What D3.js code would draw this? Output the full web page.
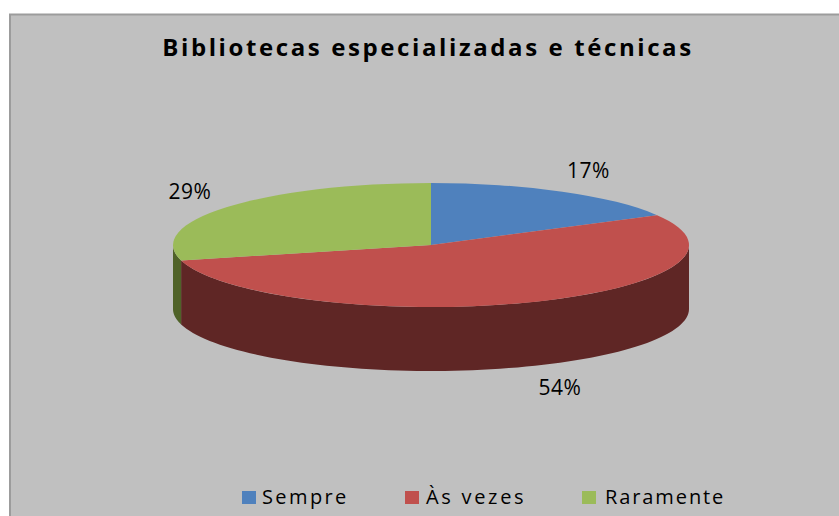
<!DOCTYPE html>
<html><head><meta charset="utf-8">
<script src="https://cdn.jsdelivr.net/npm/d3@7"></script>
<style>html,body{margin:0;padding:0;background:#fff}svg{display:block}text{font-family:"Open Sans",sans-serif;fill:#000}</style>
</head><body><svg id="c" width="839" height="516"></svg>
<script>
const categories = ["Sempre", "Às vezes", "Raramente"];
const values = [17, 54, 29];
const labels = ["17%", "54%", "29%"];
const titleText = "Bibliotecas especializadas e técnicas";
const topColors = ["#4f81bd", "#c0504d", "#9bbb59"];
const sideColors = ["#2f4d71", "#5f2625", "#4f6228"];

const svg = d3.select("#c");
svg.append("rect").attr("x",10).attr("y",14.5).attr("width",840).attr("height",520)
  .attr("fill","#c0c0c0").attr("stroke","#9c9c9c").attr("stroke-width",2);

const cx=431, cy=245, rx=258, ry=62, depth=64;
const arcs = d3.pie().sort(null).value(d=>d)(values);
const px = a => cx + rx*Math.sin(a), py = a => cy - ry*Math.cos(a);
const line = d3.line();

// side walls: only the front half of the disc (pi/2 .. 3pi/2) is visible
arcs.forEach((d,i)=>{
  const a0=Math.max(d.startAngle,Math.PI/2), a1=Math.min(d.endAngle,1.5*Math.PI);
  if(a1<=a0) return;
  const as=d3.range(0,81).map(k=>a0+(a1-a0)*k/80);
  const pts=as.map(a=>[px(a),py(a)]).concat(as.slice().reverse().map(a=>[px(a),py(a)+depth]));
  svg.append("path").attr("d",line(pts)+"Z").attr("fill",sideColors[i]);
});
// top faces
const arcGen=d3.arc().innerRadius(0).outerRadius(rx);
svg.append("g").attr("transform",`translate(${cx},${cy}) scale(1,${ry/rx})`)
  .selectAll("path").data(arcs).join("path").attr("d",arcGen).attr("fill",(d,i)=>topColors[i]);

// data labels
const labelPos=[[588.5,178],[560,395],[190,199]];
svg.selectAll("text.l").data(labels).join("text").attr("class","l")
  .attr("x",(d,i)=>labelPos[i][0]).attr("y",(d,i)=>labelPos[i][1])
  .attr("text-anchor","middle").attr("font-size",21).attr("letter-spacing",0.6).text(d=>d);

svg.append("text").attr("x",428).attr("y",56).attr("text-anchor","middle")
  .attr("font-size",24).attr("font-weight",700).attr("letter-spacing",2.6).text(titleText);

// legend
const legendX=[242,405,582], legendTextX=[262,426,605], legendSpacing=[2.4,2.7,1.9];
categories.forEach((c,i)=>{
  svg.append("rect").attr("x",legendX[i]).attr("y",491).attr("width",14).attr("height",13).attr("fill",topColors[i]);
  svg.append("text").attr("x",legendTextX[i]).attr("y",504).attr("font-size",20).attr("letter-spacing",legendSpacing[i]).text(c);
});
</script></body></html>
